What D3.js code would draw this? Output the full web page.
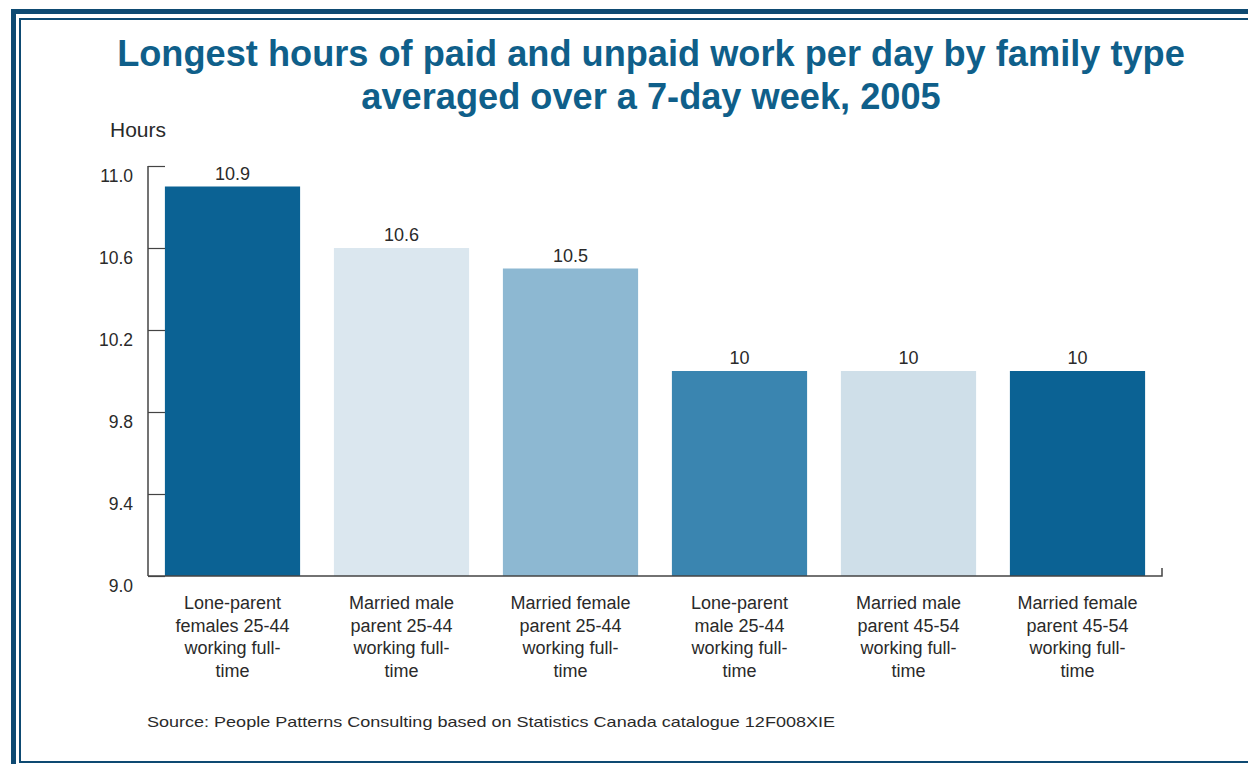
<!DOCTYPE html>
<html>
<head>
<meta charset="utf-8">
<script src="https://cdn.jsdelivr.net/npm/d3@7"></script>
<style>
  html, body { margin: 0; padding: 0; background: #fff; }
  svg { display: block; font-family: "Liberation Sans", Arial, sans-serif; }
</style>
</head>
<body>
<svg id="chart" width="1248" height="764"></svg>
<script>
// Family types (each label split into its printed lines)
const categories = [
  ["Lone-parent", "females 25-44", "working full-", "time"],
  ["Married male", "parent 25-44", "working full-", "time"],
  ["Married female", "parent 25-44", "working full-", "time"],
  ["Lone-parent", "male 25-44", "working full-", "time"],
  ["Married male", "parent 45-54", "working full-", "time"],
  ["Married female", "parent 45-54", "working full-", "time"]
];
// Hours per day, averaged over a 7-day week
const hours = [10.9, 10.6, 10.5, 10, 10, 10];
const valueLabels = ["10.9", "10.6", "10.5", "10", "10", "10"];
const yTicks = [9.0, 9.4, 9.8, 10.2, 10.6, 11.0];
const barColors = ["#0b6294", "#dbe7ef", "#8db8d2", "#3a85b0", "#cfdfe9", "#0b6294"];

const titleLines = [
  "Longest hours of paid and unpaid work per day by family type",
  "averaged over a 7-day week, 2005"
];
const sourceText = "Source: People Patterns Consulting based on Statistics Canada catalogue 12F008XIE";

const svg = d3.select("#chart");
const textColor = "#2a2a2a";

// Double frame: heavy outer rule with a thin inner rule
svg.append("rect").attr("x", 13.5).attr("y", 11.5).attr("width", 1260).attr("height", 800)
  .attr("fill", "none").attr("stroke", "#0e4a72").attr("stroke-width", 5);
svg.append("rect").attr("x", 20).attr("y", 19).attr("width", 1260).attr("height", 743)
  .attr("fill", "none").attr("stroke", "#0e4a72").attr("stroke-width", 2);

// Title
svg.append("g").selectAll("text").data(titleLines).join("text")
  .attr("x", 651).attr("y", (d, i) => 66 + i * 43)
  .attr("text-anchor", "middle")
  .attr("font-size", 36.2).attr("font-weight", "bold")
  .attr("fill", "#0f5f8a")
  .text(d => d);

// Scales
const x = d3.scaleBand().domain(d3.range(categories.length))
  .range([148, 1162]).paddingInner(0.2).paddingOuter(0.1);
const y = d3.scaleLinear().domain([9, 11]).range([576, 166]);

// Axis unit
svg.append("text").attr("x", 110).attr("y", 137)
  .attr("font-size", 21).attr("fill", textColor).text("Hours");

// Bars
svg.append("g").selectAll("rect").data(hours).join("rect")
  .attr("x", (d, i) => x(i)).attr("width", x.bandwidth())
  .attr("y", d => y(d)).attr("height", d => y(9) - y(d))
  .attr("fill", (d, i) => barColors[i]);

// Value labels above bars
svg.append("g").selectAll("text").data(hours).join("text")
  .attr("x", (d, i) => x(i) + x.bandwidth() / 2)
  .attr("y", d => y(d) - 7)
  .attr("text-anchor", "middle").attr("font-size", 18).attr("fill", textColor)
  .text((d, i) => valueLabels[i]);

// Y axis
const yAxis = d3.axisRight(y).tickValues(yTicks).tickSize(17).tickFormat("");
const gy = svg.append("g").attr("transform", "translate(148,0)").call(yAxis);
gy.select(".domain").remove();
gy.selectAll(".tick line").attr("stroke", "#444").attr("stroke-width", 1.2);
gy.append("line").attr("x1", 0).attr("x2", 0).attr("y1", y(11)).attr("y2", y(9))
  .attr("stroke", "#444").attr("stroke-width", 1.5);
// Tick labels sit slightly below their tick marks
svg.append("g").selectAll("text").data(yTicks).join("text")
  .attr("x", 133).attr("y", d => y(d) + 16)
  .attr("text-anchor", "end").attr("font-size", 17.5).attr("fill", textColor)
  .text(d => d3.format(".1f")(d));

// Baseline with small end tick
svg.append("path")
  .attr("d", `M148,${y(9)}H1162V${y(9) - 8}`)
  .attr("fill", "none").attr("stroke", "#444").attr("stroke-width", 1.5);

// Category labels
const cat = svg.append("g").selectAll("text").data(categories).join("text")
  .attr("text-anchor", "middle").attr("font-size", 18).attr("fill", textColor);
cat.selectAll("tspan").data(d => d).join("tspan")
  .attr("x", function () { return x(categories.indexOf(d3.select(this.parentNode).datum())) + x.bandwidth() / 2; })
  .attr("y", (d, j) => 609 + j * 22.7)
  .text(d => d);

// Source note
svg.append("text").attr("x", 147).attr("y", 727)
  .attr("font-size", 15).attr("fill", textColor)
  .attr("textLength", 688).attr("lengthAdjust", "spacingAndGlyphs")
  .text(sourceText);
</script>
</body>
</html>
